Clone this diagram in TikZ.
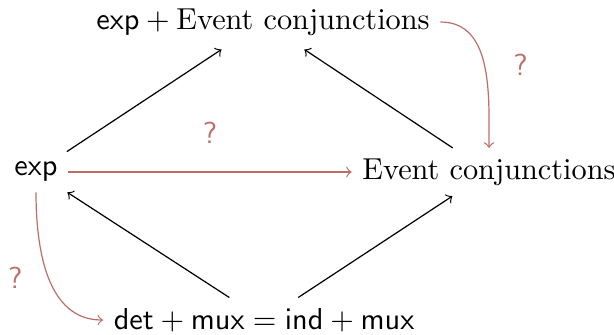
\documentclass[tikz,border=0pt]{standalone}
\usepackage{amsmath}
\usepackage{tikz}
\definecolor{qred}{RGB}{190,110,105}

\begin{document}
\begin{tikzpicture}[x=0.33pt,y=-0.33pt]

\useasboundingbox (0,0) rectangle (614,334);

\node (top) at (263,22) {$\mathsf{exp} + {}$Event conjunctions};
\node (exp) at (36,172) {$\mathsf{exp}$};
\node (ec) at (489,172) {Event conjunctions};
\node (bot) at (264,320) {$\mathsf{det} + \mathsf{mux} = \mathsf{ind} + \mathsf{mux}$};

\draw[->,shorten >=2pt] (exp) -- (top);
\draw[->,shorten >=2pt] (ec) -- (top);
\draw[->] (bot) -- (exp);
\draw[->] (bot) -- (ec);

\draw[qred,->] (exp) -- (ec) node[midway,above=6pt] {\textsf{?}};
\draw[qred,->] (top.east) to[out=0,in=90]
    node[right=6pt,pos=0.5] {\textsf{?}} (ec.north);
\draw[qred,->] (exp.south) to[out=270,in=180]
    node[left=5pt,pos=0.5] {\textsf{?}} (bot.west);

\end{tikzpicture}
\end{document}
